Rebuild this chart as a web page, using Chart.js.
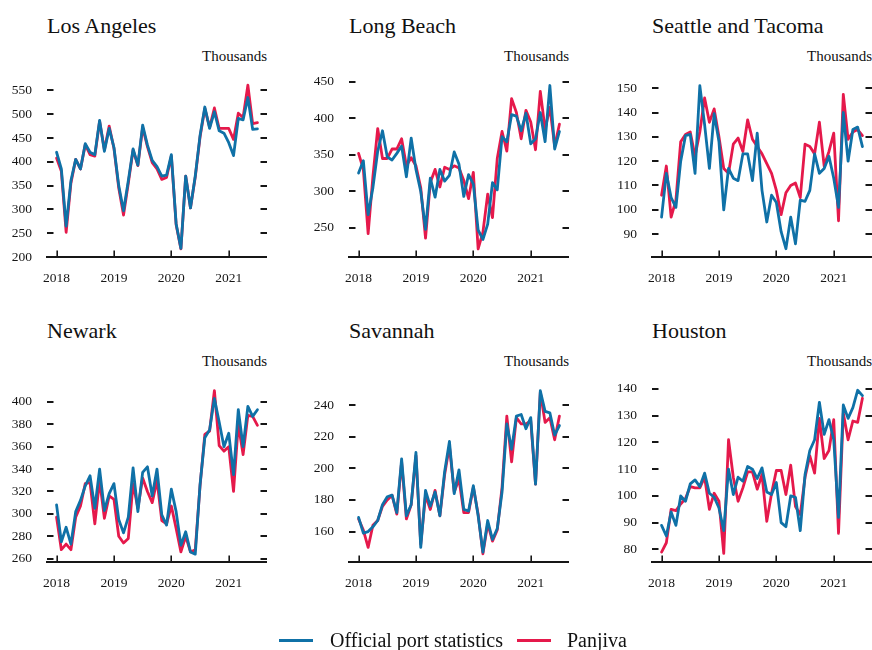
<!DOCTYPE html>
<html>
<head>
<meta charset="utf-8">
<title>Container volumes by port</title>
<script src="https://cdn.jsdelivr.net/npm/chart.js@4.4.1/dist/chart.umd.min.js"></script>
<style>
  html, body { margin: 0; padding: 0; background: #fff; overflow: hidden; }
  body { width: 872px; height: 650px; position: relative; font-family: 'Liberation Serif', serif; color: #111; }
  canvas { position: absolute; }
  .title { position: absolute; font-size: 22px; line-height: 22px; white-space: nowrap; color: #111; }
  .unit { position: absolute; font-size: 15px; line-height: 15px; white-space: nowrap; color: #111; text-align: right; }
  .legend { position: absolute; left: 0; top: 0; width: 872px; height: 650px; pointer-events: none; }
  .swatch { position: absolute; height: 3px; }
  .ltext { position: absolute; font-size: 20px; line-height: 20px; white-space: nowrap; color: #111; }
</style>
</head>
<body>
<script>
// Monthly observations, January 2018 to July 2021
const months = [
  '2018-01','2018-02','2018-03','2018-04','2018-05','2018-06','2018-07','2018-08','2018-09','2018-10','2018-11','2018-12',
  '2019-01','2019-02','2019-03','2019-04','2019-05','2019-06','2019-07','2019-08','2019-09','2019-10','2019-11','2019-12',
  '2020-01','2020-02','2020-03','2020-04','2020-05','2020-06','2020-07','2020-08','2020-09','2020-10','2020-11','2020-12',
  '2021-01','2021-02','2021-03','2021-04','2021-05','2021-06','2021-07'
];
const yearTickIndex = [0, 12, 24, 36];
const yearLabels = ['2018', '2019', '2020', '2021'];

const seriesNames = ['Official port statistics', 'Panjiva'];

// Los Angeles (thousands)
const laOfficial = [420,385,265,360,405,385,438,420,415,487,422,470,
  430,350,297,360,427,393,477,435,403,390,370,372,
  415,270,218,370,303,370,455,515,470,505,465,460,
  440,413,491,488,535,468,469];
const laPanjiva = [408,380,252,355,405,385,436,415,412,485,425,475,
  428,345,288,355,425,392,472,432,398,385,363,367,
  412,268,217,370,303,368,452,512,472,513,470,470,
  470,447,502,493,561,480,482];
const laTicks = [200,250,300,350,400,450,500,550];
const laRange = [200, 577];

// Long Beach
const lbOfficial = [325,342,268,305,355,383,347,343,352,362,320,373,
  330,300,248,318,292,330,314,322,354,337,293,323,
  310,247,234,255,312,302,375,368,405,403,383,407,
  365,372,408,368,445,358,382];
const lbPanjiva = [352,330,242,320,386,345,345,358,358,372,335,346,
  335,305,236,312,330,306,333,330,335,332,315,290,
  326,221,244,296,264,345,382,355,427,408,372,411,
  395,357,437,385,415,362,392];
const lbTicks = [250,300,350,400,450];
const lbRange = [210, 456];

// Seattle and Tacoma
const seOfficial = [97,115,105,101,120,130.5,131,115,151,135,117,139.5,
  128,100,117,113,112,123,123,112,131.5,108,95,106,
  103,91,84,97,86,104,103.5,108,123,115,117,122,
  113,101,140,120,133,134,126];
const sePanjiva = [106,118,97,104,128,131,132,122,132,146,136,141.5,
  130,117,115,127,129.5,124,137,129,126,123,119,115,
  108,98,107,110,111,105,127,126,123,136,118,124,
  131.5,95.5,147.5,129,132,133,130.5];
const seTicks = [90,100,110,120,130,140,150];
const seRange = [80.6, 154.4];

// Newark
const nwOfficial = [308,275,288,273,302,312,325,334,305,340,303,318,
  327,295,283,297,341,302,337,342,316,340,299,290,
  322,302,272,284,266,264,326,368,375,403,382,360,
  372,335,393,360,396,387,393];
const nwPanjiva = [297,268,273,268,297,307,327,328,291,330,296,316,
  313,280,274,278,327,305,332,320,310,330,294,291,
  307,287,266,280,266,268,325,371,374,410,361,356,
  360,320,380,353,388,387,379];
const nwTicks = [260,280,300,320,340,360,380,400];
const nwRange = [257, 417.3];

// Savannah
const svOfficial = [169,159,160,163,167,177,182,183,172,206,170,177,
  210,150,186,176,185,170,198,217,184,199,174,173,
  189,170,147,167,155,162,185,228,212,233,234,225,
  232,190,249,236,235,221,227];
const svPanjiva = [168,161,150,164,167,176,180,183,171,204,168,177,
  208,152,183,174,186,170,196,214,185,193,172,172,
  188,171,146,165,154,161,188,233,204,232,228,228,
  230,190,248,229,232,218,233];
const svTicks = [160,180,200,220,240];
const svRange = [140.8, 254.2];

// Houston
const hoOfficial = [89,85,94,89,100,98,104.5,106,103.5,108.5,101,99.5,
  95.5,87,110,100.5,107,105.5,111,110,106.5,110.5,101.5,100.5,
  105,90,88.5,100,99.5,87,108,117,121,135,123,128.5,
  121,92,134,129,133,139.5,137.5];
const hoPanjiva = [79,82.5,95,94.5,97,99,103.5,103,103,107,95,101,
  98,78.5,121,107,98,103,109,109,102.5,108,90.5,101,
  109.5,109.5,100.5,111.5,96,93,107,115,108.5,129,114,117,
  128.5,86,131,121,128,127.5,136.5];
const hoTicks = [80,90,100,110,120,130,140];
const hoRange = [75.3, 142.4];

const ports = [
  { name: 'Los Angeles',        official: laOfficial, panjiva: laPanjiva, ticks: laTicks, range: laRange },
  { name: 'Long Beach',         official: lbOfficial, panjiva: lbPanjiva, ticks: lbTicks, range: lbRange },
  { name: 'Seattle and Tacoma', official: seOfficial, panjiva: sePanjiva, ticks: seTicks, range: seRange },
  { name: 'Newark',             official: nwOfficial, panjiva: nwPanjiva, ticks: nwTicks, range: nwRange },
  { name: 'Savannah',           official: svOfficial, panjiva: svPanjiva, ticks: svTicks, range: svRange },
  { name: 'Houston',            official: hoOfficial, panjiva: hoPanjiva, ticks: hoTicks, range: hoRange }
];

// Styling and layout
const BLUE = '#0f71a7';
const RED = '#e5194b';
const INK = '#161616';
const FONT = "'Liberation Serif', serif";
const colLeft = [47, 349, 652];   // left edge of each plotting area
const rowTop = [0, 305];
const plotWidth = 220;
const axisWidth = 47;              // room for the y labels
const canvasH = 297;

// Short inward tick marks on both sides of each panel and upward year ticks
const edgeTicks = {
  id: 'edgeTicks',
  afterDraw(chart) {
    const { ctx, chartArea: a, scales: { x, y } } = chart;
    ctx.save();
    ctx.strokeStyle = INK;
    ctx.lineCap = 'butt';
    ctx.lineWidth = 2;
    ctx.beginPath();
    y.ticks.forEach(t => {
      const py = Math.round(y.getPixelForValue(t.value));
      ctx.moveTo(a.left, py); ctx.lineTo(a.left + 6.5, py);
      ctx.moveTo(a.right - 6.5, py); ctx.lineTo(a.right, py);
    });
    ctx.stroke();
    ctx.lineWidth = 1.6;
    ctx.beginPath();
    x.ticks.forEach(t => {
      const px = Math.round(x.getPixelForValue(t.value)) + 0.2;
      ctx.moveTo(px, a.bottom); ctx.lineTo(px, a.bottom - 6.5);
    });
    ctx.stroke();
    ctx.restore();
  }
};

function addText(cls, text, left, top, width) {
  const d = document.createElement('div');
  d.className = cls;
  d.textContent = text;
  d.style.left = left + 'px';
  d.style.top = top + 'px';
  if (width) d.style.width = width + 'px';
  document.body.appendChild(d);
}

ports.forEach((p, k) => {
  const col = k % 3, row = Math.floor(k / 3);
  const L = colLeft[col], T = rowTop[row];

  addText('title', p.name, L, T + 14.6);
  addText('unit', 'Thousands', L, T + 49, plotWidth);

  const cv = document.createElement('canvas');
  const w = axisWidth + plotWidth;
  cv.width = w; cv.height = canvasH;
  cv.style.width = w + 'px'; cv.style.height = canvasH + 'px';
  cv.style.left = (L - axisWidth) + 'px';
  cv.style.top = T + 'px';
  document.body.appendChild(cv);

  const toPoints = arr => arr.map((v, i) => ({ x: i, y: v }));

  new Chart(cv.getContext('2d'), {
    type: 'line',
    data: {
      labels: months,
      datasets: [
        { label: seriesNames[0], data: toPoints(p.official), borderColor: BLUE, backgroundColor: BLUE },
        { label: seriesNames[1], data: toPoints(p.panjiva), borderColor: RED, backgroundColor: RED }
      ]
    },
    options: {
      responsive: false,
      animation: false,
      devicePixelRatio: 1,
      events: [],
      layout: { autoPadding: false, padding: { top: 77.5, left: 0, right: 0, bottom: 0 } },
      plugins: { legend: { display: false }, tooltip: { enabled: false }, title: { display: false } },
      elements: {
        point: { radius: 0, hoverRadius: 0 },
        line: { borderWidth: 2.8, tension: 0, borderJoinStyle: 'round', borderCapStyle: 'round' }
      },
      scales: {
        x: {
          type: 'linear',
          min: -2,
          max: 44,
          grid: { display: false, drawTicks: false },
          border: { display: true, color: INK, width: 2 },
          afterBuildTicks: s => { s.ticks = yearTickIndex.map(v => ({ value: v })); },
          afterFit: s => { s.height = canvasH - 77.5 - 179.5; },
          ticks: {
            autoSkip: false,
            maxRotation: 0,
            padding: 13,
            color: INK,
            font: { family: FONT, size: 13.5 },
            callback: v => yearLabels[yearTickIndex.indexOf(v)]
          }
        },
        y: {
          min: p.range[0],
          max: p.range[1],
          grid: { display: false, drawTicks: false },
          border: { display: false },
          afterBuildTicks: s => { s.ticks = p.ticks.map(v => ({ value: v })); },
          afterFit: s => { s.width = axisWidth; },
          ticks: {
            padding: 15,
            color: INK,
            font: { family: FONT, size: 13.5 }
          }
        }
      }
    },
    plugins: [edgeTicks]
  });
});

// Shared legend along the bottom
const legend = document.createElement('div');
legend.className = 'legend';
document.body.appendChild(legend);
[
  { color: BLUE, lineLeft: 279, textLeft: 330, text: seriesNames[0] },
  { color: RED,  lineLeft: 517, textLeft: 567, text: seriesNames[1] }
].forEach(item => {
  const s = document.createElement('div');
  s.className = 'swatch';
  s.style.left = item.lineLeft + 'px';
  s.style.top = '638.5px';
  s.style.width = '34px';
  s.style.background = item.color;
  legend.appendChild(s);
  const t = document.createElement('div');
  t.className = 'ltext';
  t.textContent = item.text;
  t.style.left = item.textLeft + 'px';
  t.style.top = '629.8px';
  legend.appendChild(t);
});
</script>
</body>
</html>
